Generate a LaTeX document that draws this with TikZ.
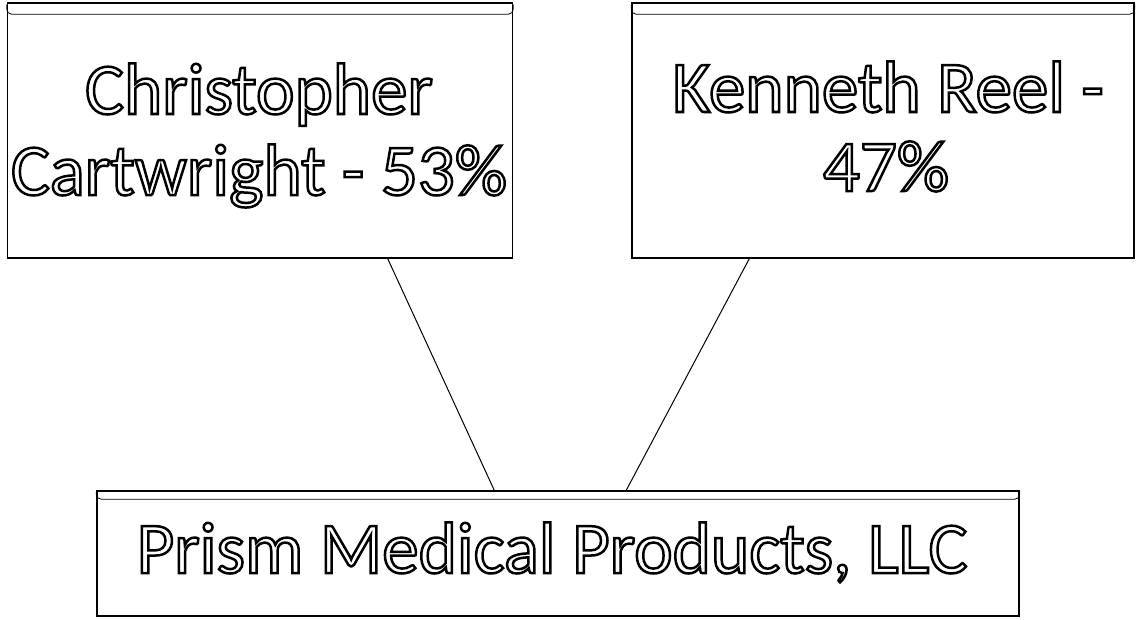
\documentclass[tikz,border=0pt]{standalone}
\usepackage{fontspec}
\setmainfont{Carlito}
\newcommand{\outl}[1]{\special{pdf:literal direct 1 Tr 2.5 w}#1\special{pdf:literal direct 0 Tr}}
\begin{document}
\begin{tikzpicture}[x=1pt,y=-1pt,
  box/.style={draw, line width=1.5pt, inner sep=0pt},
  lid/.style={line width=0.8pt, rounded corners=5pt},
  lbl/.style={anchor=base, inner sep=0pt, font=\fontsize{73}{80}\selectfont},
  conn/.style={line width=1pt}]
\useasboundingbox (0,0) rectangle (1136,619);
\node[box, minimum width=505pt, minimum height=255pt] (b1) at (260,130.5) {};
\node[box, minimum width=502pt, minimum height=255pt] (b2) at (883,130.5) {};
\node[box, minimum width=922pt, minimum height=125pt] (b3) at (558,553.5) {};
\draw[lid] ([yshift=-2pt]b1.north west) |- ([yshift=-12pt]b1.north) -| ([yshift=-2pt]b1.north east);
\draw[lid] ([yshift=-2pt]b2.north west) |- ([yshift=-12pt]b2.north) -| ([yshift=-2pt]b2.north east);
\draw[lid] ([yshift=-2pt]b3.north west) |- ([yshift=-9pt]b3.north) -| ([yshift=-2pt]b3.north east);
\draw[conn] ([xshift=381pt]b1.south west) -- ([xshift=398pt]b3.north west);
\draw[conn] ([xshift=118pt]b2.south west) -- ([xshift=530pt]b3.north west);
\node[lbl] (t1a) at (259,114) {\outl{Christopher}};
\node[lbl] (t1b) at (259,195) {\outl{Cartwright - 53\%}};
\node[lbl] (t2a) at (888,112) {\outl{Kenneth Reel -}};
\node[lbl] (t2b) at (886,191) {\outl{47\%}};
\node[lbl] (t3) at (552,573) {\outl{Prism Medical Products, LLC}};
\end{tikzpicture}
\end{document}
